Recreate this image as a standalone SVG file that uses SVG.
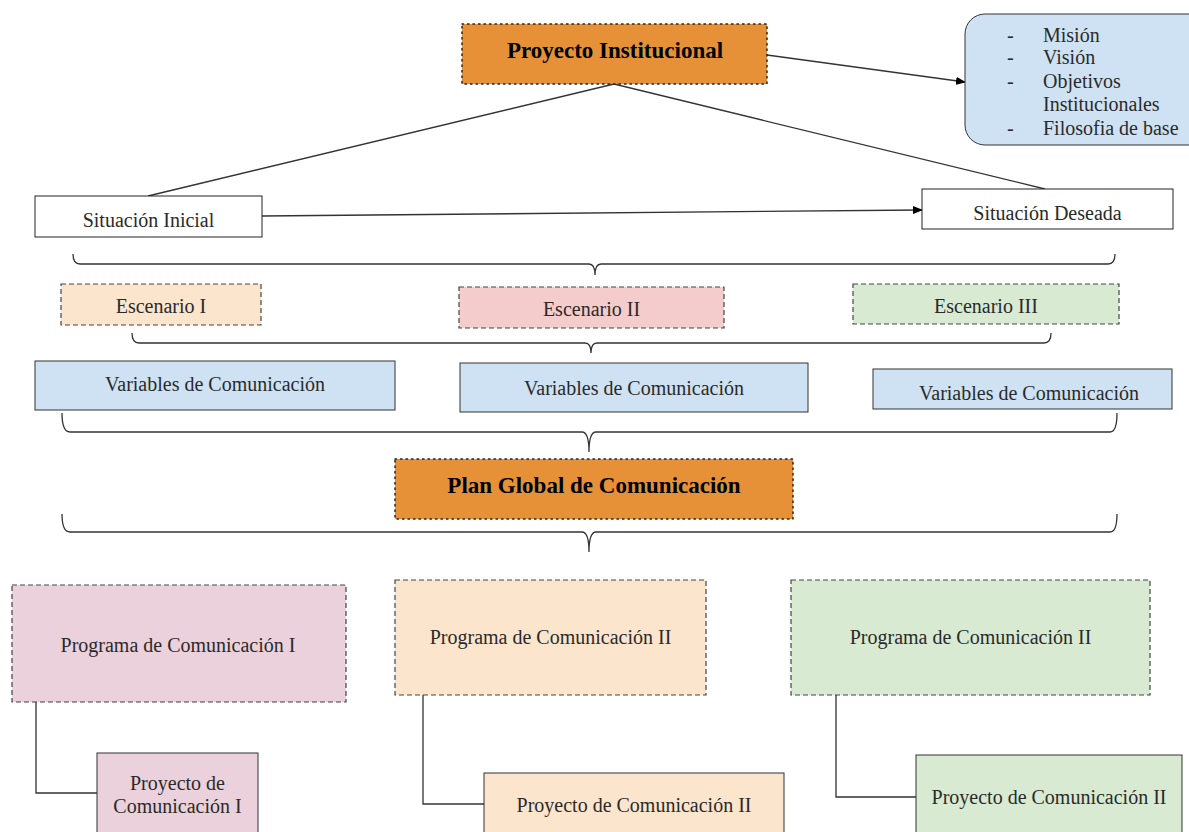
<svg xmlns="http://www.w3.org/2000/svg" width="1189" height="832" viewBox="0 0 1189 832">
<defs>
<marker id="arr" markerWidth="10" markerHeight="8" refX="9" refY="4" orient="auto" markerUnits="userSpaceOnUse">
<path d="M0,0 L10,4 L0,8 z" fill="#000"/>
</marker>
<style>
text{font-family:"Liberation Serif","Times New Roman",serif;font-size:20px;fill:#2a2a2a;}
.b{font-weight:bold;font-size:23px;fill:#000;}
.orange{fill:#E69138;stroke:#222;stroke-width:1.5;stroke-dasharray:1.5 4;stroke-linecap:round;}
.plain{fill:#fff;stroke:#222;stroke-width:1;}
.dash{stroke:#444;stroke-width:1.2;stroke-dasharray:5 3;}
.solid{stroke:#333;stroke-width:1;}
.blue{fill:#CFE2F3;stroke:#333;stroke-width:1;}
.ln{fill:none;stroke:#333;stroke-width:1.3;}
</style>
</defs>
<rect width="1189" height="832" fill="#fff"/>
<g id="connectors">
<line class="ln" x1="767" y1="55" x2="965" y2="82" marker-end="url(#arr)"/>
<line class="ln" x1="614" y1="84" x2="148" y2="196"/>
<line class="ln" x1="614" y1="84" x2="1045" y2="189"/>
<line class="ln" x1="262" y1="216" x2="922" y2="210" marker-end="url(#arr)"/>
<path class="ln" d="M73,254 Q73,264 80,264 L589,264 Q595,264 595,275 Q595,264 601,264 L1108,264 Q1115,264 1115,254"/>
<path class="ln" d="M132,333 Q132,343 139,343 L585,343 Q591,343 591,353 Q591,343 597,343 L1044,343 Q1051,343 1051,333"/>
<path class="ln" d="M62,413 Q62,432 70,432 L582,432 Q589,432 589,452 Q589,432 596,432 L1110,432 Q1117,432 1117,413"/>
<path class="ln" d="M62,514 Q62,532 70,532 L582,532 Q589,532 589,552 Q589,532 596,532 L1110,532 Q1117,532 1117,514"/>
<path class="ln" d="M36,702 L36,793 L97,793"/>
<path class="ln" d="M423,695 L423,804 L484,804"/>
<path class="ln" d="M836,695 L836,797 L916,797"/>
</g>
<g id="proyecto-institucional">
<rect class="orange" x="462" y="24" width="305" height="60"/>
<text class="b" x="615" y="58" text-anchor="middle">Proyecto Institucional</text>
</g>
<g id="callout">
<rect class="blue" x="965" y="14" width="250" height="131" rx="20" ry="20"/>
<text x="1007" y="42">-</text><text x="1043" y="42">Misión</text>
<text x="1007" y="64">-</text><text x="1043" y="64">Visión</text>
<text x="1007" y="88">-</text><text x="1043" y="88">Objetivos</text>
<text x="1043" y="111">Institucionales</text>
<text x="1007" y="135">-</text><text x="1043" y="135">Filosofia de base</text>
</g>
<g id="situacion-inicial">
<rect class="plain" x="35" y="196" width="227" height="41"/>
<text x="148.5" y="227" text-anchor="middle">Situación Inicial</text>
</g>
<g id="situacion-deseada">
<rect class="plain" x="922" y="189" width="251" height="40"/>
<text x="1047.5" y="220" text-anchor="middle">Situación Deseada</text>
</g>
<g id="escenario-1">
<rect class="dash" fill="#FCE5CD" x="61" y="284" width="200" height="41"/>
<text x="161" y="313" text-anchor="middle">Escenario I</text>
</g>
<g id="escenario-2">
<rect class="dash" fill="#F4CCCC" x="459" y="287" width="265" height="41"/>
<text x="591.5" y="316" text-anchor="middle">Escenario II</text>
</g>
<g id="escenario-3">
<rect class="dash" fill="#D9EAD3" x="853" y="284" width="266" height="40"/>
<text x="986" y="313" text-anchor="middle">Escenario III</text>
</g>
<g id="variables-1">
<rect class="blue" x="35" y="361" width="360" height="49"/>
<text x="215" y="391" text-anchor="middle">Variables de Comunicación</text>
</g>
<g id="variables-2">
<rect class="blue" x="460" y="363" width="348" height="49"/>
<text x="634" y="395" text-anchor="middle">Variables de Comunicación</text>
</g>
<g id="variables-3">
<rect class="blue" x="873" y="369" width="299" height="40"/>
<text x="1029" y="400" text-anchor="middle">Variables de Comunicación</text>
</g>
<g id="plan-global">
<rect class="orange" x="395" y="459" width="398" height="60"/>
<text class="b" x="594" y="493" text-anchor="middle">Plan Global de Comunicación</text>
</g>
<g id="programa-1">
<rect class="dash" fill="#EAD1DC" x="12" y="585" width="334" height="117"/>
<text x="178" y="652" text-anchor="middle">Programa de Comunicación I</text>
</g>
<g id="programa-2">
<rect class="dash" fill="#FCE5CD" x="395" y="580" width="311" height="115"/>
<text x="550.5" y="644" text-anchor="middle">Programa de Comunicación II</text>
</g>
<g id="programa-3">
<rect class="dash" fill="#D9EAD3" x="791" y="580" width="359" height="115"/>
<text x="970.5" y="644" text-anchor="middle">Programa de Comunicación II</text>
</g>
<g id="proyecto-1">
<rect class="solid" fill="#EAD1DC" x="97" y="753" width="161" height="90"/>
<text x="177.5" y="790" text-anchor="middle">Proyecto de</text>
<text x="177.5" y="813" text-anchor="middle">Comunicación I</text>
</g>
<g id="proyecto-2">
<rect class="solid" fill="#FCE5CD" x="484" y="773" width="300" height="70"/>
<text x="634" y="812" text-anchor="middle">Proyecto de Comunicación II</text>
</g>
<g id="proyecto-3">
<rect class="solid" fill="#D9EAD3" x="916" y="755" width="266" height="88"/>
<text x="1049" y="804" text-anchor="middle">Proyecto de Comunicación II</text>
</g>
</svg>
